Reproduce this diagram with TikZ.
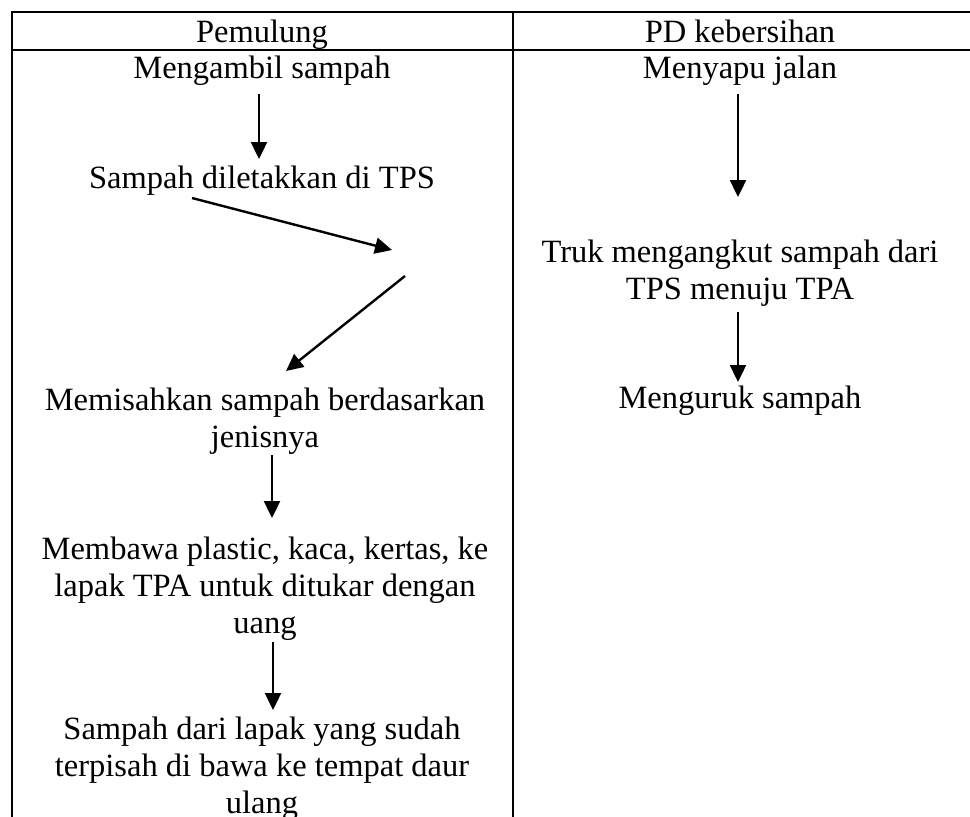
\documentclass[tikz,border=0pt]{standalone}
\usepackage{fontspec}
\setmainfont{Liberation Serif}
\usetikzlibrary{arrows.meta}
\begin{document}
\begin{tikzpicture}[x=1pt,y=-1pt,
  rule/.style={line width=1.5pt},
  flow/.style={line width=2.4pt, -{Triangle[length=17pt,width=16pt]}},
  lbl/.style={font=\fontsize{32.5}{37}\selectfont, align=center, anchor=base, inner sep=0pt}]
\useasboundingbox (0,0) rectangle (970,817);

% table rules
\draw[rule] (12,12) -- (975,12);
\draw[rule] (12,50) -- (975,50);
\draw[rule] (12,11.25) -- (12,820);
\draw[rule] (513,11.25) -- (513,820);

% header
\node[lbl] (h1) at (262,42) {Pemulung};
\node[lbl] (h2) at (740,42) {PD kebersihan};

% left column (base anchor = baseline of the last line)
\node[lbl] (l1) at (262,78) {Mengambil sampah};
\node[lbl] (l2) at (262,188) {Sampah diletakkan di TPS};
\node[lbl] (l3) at (265,447) {Memisahkan sampah berdasarkan\\jenisnya};
\node[lbl] (l4) at (265,633) {Membawa plastic, kaca, kertas, ke\\lapak TPA untuk ditukar dengan\\uang};
\node[lbl] (l5) at (262,813) {Sampah dari lapak yang sudah\\terpisah di bawa ke tempat daur\\ulang};

% right column
\node[lbl] (r1) at (740,78) {Menyapu jalan};
\node[lbl] (r2) at (740,299) {Truk mengangkut sampah dari\\TPS menuju TPA};
\node[lbl] (r3) at (740,408) {Menguruk sampah};

% arrow end points
\coordinate (a1s) at (259,94);   \coordinate (a1e) at (259,159);
\coordinate (d1s) at (192,198);  \coordinate (d1e) at (392,250);
\coordinate (d2s) at (405,276);  \coordinate (d2e) at (286,371);
\coordinate (a3s) at (272,455);  \coordinate (a3e) at (272,518);
\coordinate (a4s) at (273,642);  \coordinate (a4e) at (273,710);
\coordinate (b1s) at (738,94);   \coordinate (b1e) at (738,197);
\coordinate (b2s) at (738,312);  \coordinate (b2e) at (738,382);

\draw[flow] (a1s) -- (a1e);
\draw[flow] (d1s) -- (d1e);
\draw[flow] (d2s) -- (d2e);
\draw[flow] (a3s) -- (a3e);
\draw[flow] (a4s) -- (a4e);
\draw[flow] (b1s) -- (b1e);
\draw[flow] (b2s) -- (b2e);
\end{tikzpicture}
\end{document}
